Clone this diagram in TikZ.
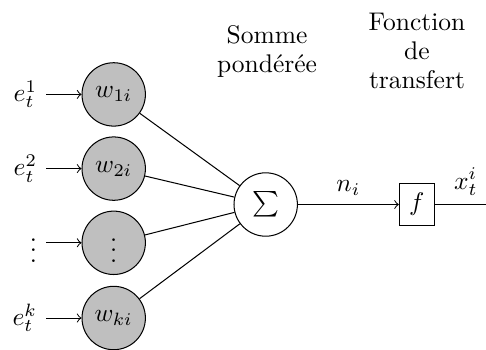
\documentclass[tikz,border=0pt]{standalone}
\usepackage{fontspec}
\begin{document}
\begin{tikzpicture}[x=0.392pt,y=-0.392pt,
  neuron/.style={draw,circle,fill=gray!50,minimum size=24.85pt,inner sep=0pt},
  sumnode/.style={draw,circle,fill=white,minimum size=24.85pt,inner sep=0pt},
  funcbox/.style={draw,minimum width=13.6pt,minimum height=16.5pt,inner sep=0pt},
  inlabel/.style={anchor=east},
  header/.style={align=center,anchor=north,inner sep=0pt,font=\fontsize{10}{11.3}\selectfont},
  arr/.style={->}]
\useasboundingbox (0,0) rectangle (486,349);
\node[neuron] (w1) at (113.7,94.4) {$w_{1i}$};
\node[neuron] (w2) at (113.7,168.6) {$w_{2i}$};
\node[neuron] (w3) at (113.7,242.8) {$\vdots$};
\node[neuron] (wk) at (113.7,318) {$w_{ki}$};
\node[inlabel] (e1) at (46,94.4) {$e_t^1$};
\node[inlabel] (e2) at (46,168.6) {$e_t^2$};
\node[inlabel] (e3) at (46,242.8) {$\vdots$};
\node[inlabel] (ek) at (46,318) {$e_t^k$};
\node[sumnode] (sigma) at (265.7,204.5) {$\sum$};
\node[funcbox] (f) at (416.7,204.5) {$f$};
\coordinate (out) at (497,204.5);
\draw[arr] (e1.east |- w1) -- (w1);
\draw[arr] (e2.east |- w2) -- (w2);
\draw[arr] (e3.east |- w3) -- (w3);
\draw[arr] (ek.east |- wk) -- (wk);
\draw (w1) -- (sigma);
\draw (w2) -- (sigma);
\draw (w3) -- (sigma);
\draw (wk) -- (sigma);
\draw[arr] (sigma) -- node[above] (ni) {$n_i$} (f);
\draw (f) -- node[above] (xt) {$x_t^i$} (out);
\node[header] (somme) at (267,24.9) {Somme\\pondérée};
\node[header] (fonction) at (417,12.6) {Fonction\\de\\transfert};
\end{tikzpicture}
\end{document}
